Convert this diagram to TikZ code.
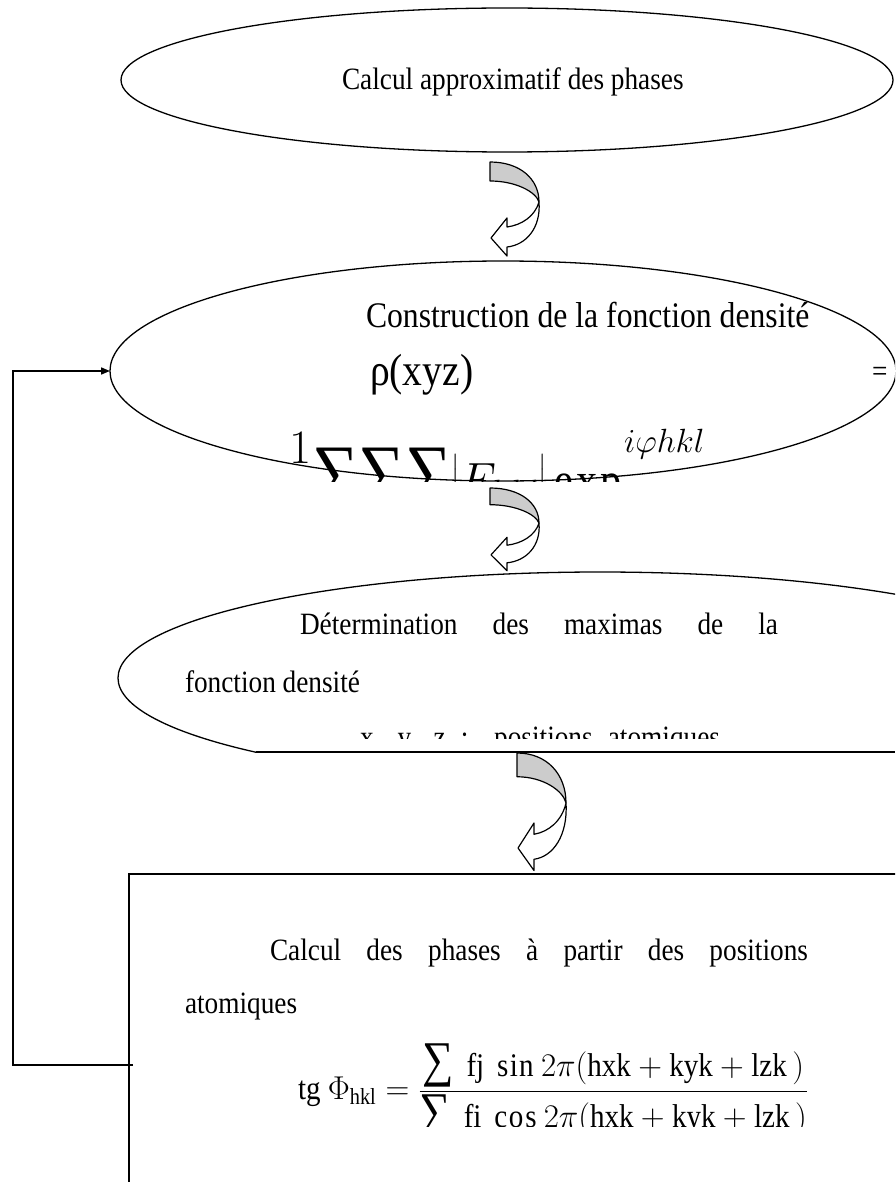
\RequirePackage{fix-cm}
\documentclass[tikz,border=0pt]{standalone}
\usepackage{amsmath}
\usepackage{fontspec}
\setmainfont{Liberation Serif}[FakeStretch=0.88]
\usepackage{tikz}
\usetikzlibrary{arrows.meta,positioning,shapes.geometric}

\newcommand{\bigsum}[1]{\mathop{\text{\fontsize{#1}{#1}\selectfont ∑}}}
\newcommand{\sumrow}[1]{\text{\fontsize{#1}{#1}\selectfont ∑∑∑}}

\tikzset{
  pics/bendarrow/.style={code={
    \filldraw[fill=gray!40,line width=1.2pt,line join=round]
      (0,0) .. controls (30,0) and (49,17) .. (49,40)
      .. controls (46,30) and (26,19) .. (0,19) -- cycle;
    \filldraw[fill=white,line width=1.2pt,line join=round]
      (49,40) .. controls (51,66) and (36,83) .. (17,85)
      -- (17,94) -- (1,76) -- (17,56) -- (17,65)
      .. controls (32,63) and (45,54) .. (49,40) -- cycle;
  }}
}

\begin{document}
\begin{tikzpicture}[x=1pt,y=-1pt,
    bubble/.style={draw,ellipse,line width=1.3pt,inner sep=0pt,outer sep=0pt},
    txt/.style={inner sep=0pt,outer sep=0pt,anchor=base west,
                font=\fontsize{31}{37}\selectfont},
    big/.style={txt,font=\fontsize{45}{54}\selectfont},
    fb/.style={line width=1.6pt,-{Triangle[length=9pt,width=7pt]}}
  ]
  \clip (0,0) rectangle (895,1182);

  % approximate phases
  \node[bubble,minimum width=772pt,minimum height=144pt] (approx) at (507,80) {};
  \node[txt] (approxtxt) at (342,90) {Calcul approximatif des phases};
  \pic at (490,162) {bendarrow};

  % density function
  \node[bubble,minimum width=786pt,minimum height=220pt] (dens) at (503,371) {};
  \node[txt,font=\fontsize{36}{43}\selectfont] (denstxt) at (366,327)
       {Construction de la fonction densité};
  \node[big] (rho) at (370,385) {ρ(xyz)};
  \node[txt] (eq) at (872,381) {=};
  \begin{scope}
    \clip (0,0) rectangle (895,481);
    \node[big,font=\fontsize{48}{56}\selectfont] (sum) at (280,496)
         {$\displaystyle\frac{1}{V}\!\sumrow{74}\bigl|F_{hkl}\bigr|\exp^{\raisebox{24pt}{$\scriptstyle i\varphi hkl$}}$};
  \end{scope}
  \pic[yscale=.88] at (490,488) {bendarrow};

  % maxima
  \begin{scope}
    \clip (0,0) rectangle (895,752);
    \node[bubble,minimum width=964pt,minimum height=212pt] (maxi) at (600,678) {};
  \end{scope}
  \coordinate (cutl) at (256,752);
  \coordinate (cutr) at (895,752);
  \draw[line width=1.3pt] (cutl) -- (cutr);
  \node[txt] (maxitxt) at (300,634) {\makebox[478pt][s]{Détermination des maximas de la}};
  \node[txt] (maxitxt2) at (185,692) {fonction densité};
  \begin{scope}
    \clip (0,0) rectangle (895,738);
    \node[txt] (postxt) at (360,747) {\makebox[360pt][s]{x, y, z : positions atomiques}};
  \end{scope}
  \pic[yscale=1.25] at (517,753) {bendarrow};

  % phases from positions
  \node[draw,line width=1.6pt,anchor=north west,inner sep=0pt,
        minimum width=800pt,minimum height=340pt] (phase) at (128,873) {};
  \node[txt] (phasetxt) at (270,960) {\makebox[538pt][s]{Calcul des phases à partir des positions}};
  \node[txt] (phasetxt2) at (185,1013) {atomiques};
  \begin{scope}
    \clip (0,0) rectangle (895,1126);
    \node[txt,anchor=west,font=\fontsize{33}{40}\selectfont] (tg) at (298,1091)
         {$\displaystyle\text{tg }\Phi_{\text{hkl}}=\frac{\bigsum{50}\ \text{fj}\ \sin 2\pi(\text{hxk}+\text{kyk}+\text{lzk}\,)}
          {\bigsum{50}\ \text{fi}\ \cos 2\pi(\text{hxk}+\text{kyk}+\text{lzk}\,)}$};
  \end{scope}

  % back loop
  \coordinate (fbstart) at (133,1065);
  \coordinate (fbcorner) at (13,1065);
  \draw[fb] (fbstart) -- (fbcorner) |- (dens.west);
\end{tikzpicture}
\end{document}
